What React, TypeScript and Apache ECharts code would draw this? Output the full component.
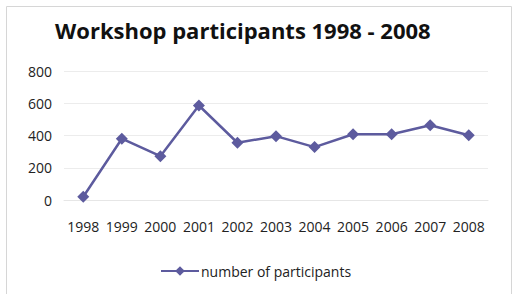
import React, { useEffect, useRef } from "react";
import * as echarts from "echarts";

const years = ["1998", "1999", "2000", "2001", "2002", "2003", "2004", "2005", "2006", "2007", "2008"];
const participants = [20, 380, 272, 586, 355, 396, 328, 408, 408, 464, 402];
const seriesName = "number of participants";
const titleText = "Workshop participants 1998 - 2008";

export default function App() {
  const ref = useRef<HTMLDivElement>(null);
  useEffect(() => {
    if (!ref.current) return;
    const chart = echarts.init(ref.current, null, { renderer: "svg" });
    const font = "'Open Sans', 'Noto Sans', sans-serif";
    chart.setOption({
      animation: false,
      backgroundColor: "#ffffff",
      graphic: [
        {
          type: "rect",
          shape: { x: 6.5, y: 6.5, width: 505, height: 300 },
          style: { fill: "none", stroke: "#d6d6d6", lineWidth: 1 },
          silent: true,
        },
      ],
      title: {
        text: titleText,
        left: 50,
        top: 14,
        textStyle: { fontFamily: font, fontWeight: "bold", fontSize: 22, color: "#111111" },
      },
      grid: { left: 64, right: 28, top: 71, bottom: 94, containLabel: false },
      xAxis: {
        type: "category",
        data: years,
        boundaryGap: true,
        axisLine: { show: true, lineStyle: { color: "#e6e6e6" } },
        axisTick: { show: false },
        axisLabel: { color: "#222222", fontFamily: font, fontSize: 14, margin: 19, interval: 0 },
      },
      yAxis: {
        type: "value",
        min: 0,
        max: 800,
        interval: 200,
        axisLine: { show: false },
        axisTick: { show: false },
        splitLine: { lineStyle: { color: "#ececec" } },
        axisLabel: { color: "#222222", fontFamily: font, fontSize: 14, margin: 12 },
      },
      legend: {
        bottom: 11,
        left: 155,
        itemWidth: 38,
        itemHeight: 12,
        itemGap: 4,
        data: [seriesName],
        textStyle: { fontFamily: font, fontSize: 14, color: "#222222", padding: [0, 0, 0, -3] },
      },
      series: [
        {
          name: seriesName,
          type: "line",
          data: participants,
          symbol: "diamond",
          symbolSize: 12,
          lineStyle: { color: "#5d5b9e", width: 2.5 },
          itemStyle: { color: "#5d5b9e" },
        },
      ],
    });
    return () => chart.dispose();
  }, []);
  return (
    <div
      ref={ref}
      style={{ position: "absolute", left: 0, top: 0, width: 516, height: 294 }}
    />
  );
}
